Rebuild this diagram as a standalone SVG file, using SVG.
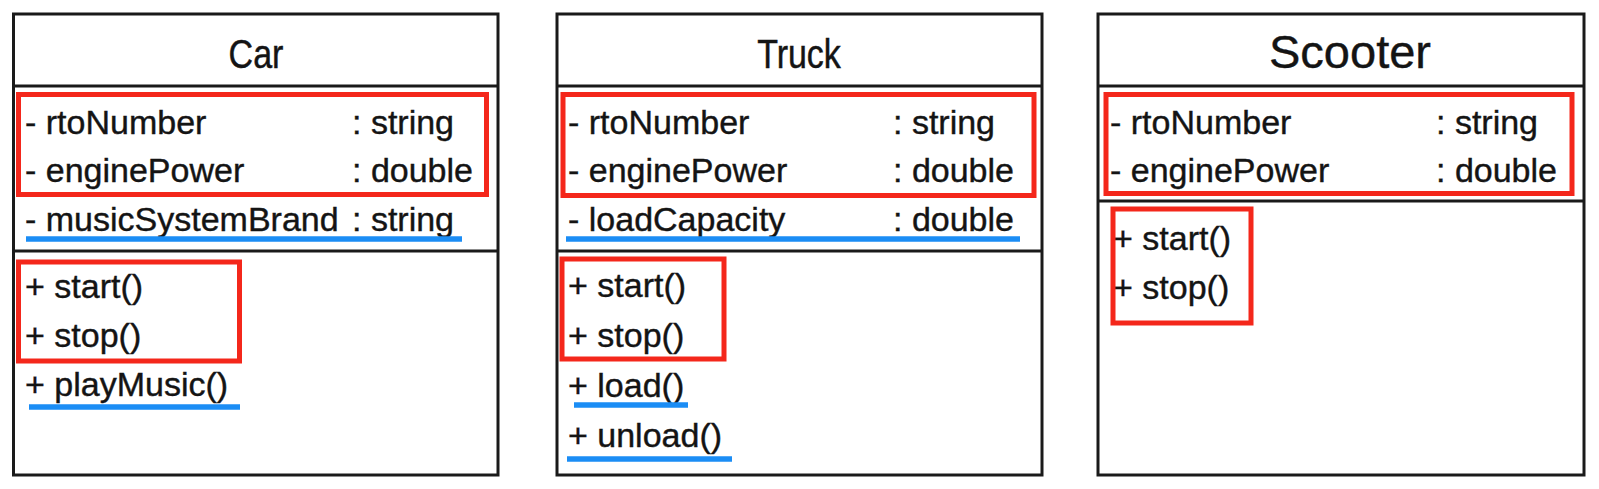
<svg xmlns="http://www.w3.org/2000/svg" width="1599" height="489" viewBox="0 0 1599 489">
<style>
.box{fill:#fff;stroke:#1a1a1a;stroke-width:3}
.div{stroke:#1a1a1a;stroke-width:3}
.hl{fill:none;stroke:#f4271b;stroke-width:5}
.ul{stroke:#1b8df5;stroke-width:5.5;stroke-linecap:butt}
text{font-family:"Liberation Sans",Arial,sans-serif;fill:#141414;stroke:#141414;stroke-width:0.4}
.t{font-size:34px;text-anchor:middle}
.a{font-size:34px}
</style>
<rect width="1599" height="489" fill="#fff"/>
<g id="car">
<rect class="box" x="13.5" y="14" width="484.5" height="461"/>
<line class="div" x1="13.5" y1="86" x2="498" y2="86"/>
<line class="div" x1="13.5" y1="251" x2="498" y2="251"/>
<text class="t" transform="translate(256,68) scale(1,1.17)">Car</text>
<text class="a" x="25" y="134">- rtoNumber</text>
<text class="a" x="352" y="134">: string</text>
<text class="a" x="25" y="182">- enginePower</text>
<text class="a" x="352" y="182">: double</text>
<text class="a" x="25" y="231">- musicSystemBrand</text>
<text class="a" x="352" y="231">: string</text>
<text class="a" x="25" y="298">+ start()</text>
<text class="a" x="25" y="347">+ stop()</text>
<text class="a" x="25" y="396">+ playMusic()</text>
<rect class="hl" x="18.5" y="94.5" width="468" height="100"/>
<rect class="hl" x="18.5" y="262" width="221" height="99"/>
<line class="ul" x1="26" y1="239" x2="462" y2="239"/>
<line class="ul" x1="29" y1="407" x2="240" y2="407"/>
</g>
<g id="truck">
<rect class="box" x="557" y="14" width="485" height="461"/>
<line class="div" x1="557" y1="86" x2="1042" y2="86"/>
<line class="div" x1="557" y1="251" x2="1042" y2="251"/>
<text class="t" transform="translate(799,68) scale(1,1.17)">Truck</text>
<text class="a" x="568" y="134">- rtoNumber</text>
<text class="a" x="893" y="134">: string</text>
<text class="a" x="568" y="182">- enginePower</text>
<text class="a" x="893" y="182">: double</text>
<text class="a" x="568" y="231">- loadCapacity</text>
<text class="a" x="893" y="231">: double</text>
<text class="a" x="568" y="297">+ start()</text>
<text class="a" x="568" y="347">+ stop()</text>
<text class="a" x="568" y="397">+ load()</text>
<text class="a" x="568" y="447">+ unload()</text>
<rect class="hl" x="563" y="94.5" width="471" height="101"/>
<rect class="hl" x="562" y="259" width="162" height="100"/>
<line class="ul" x1="566" y1="239" x2="1020" y2="239"/>
<line class="ul" x1="574" y1="405" x2="688" y2="405"/>
<line class="ul" x1="567" y1="459" x2="732" y2="459"/>
</g>
<g id="scooter">
<rect class="box" x="1098" y="14" width="486" height="461"/>
<line class="div" x1="1098" y1="86" x2="1584" y2="86"/>
<line class="div" x1="1098" y1="201" x2="1584" y2="201"/>
<text x="1350" y="68" style="font-size:47px;text-anchor:middle">Scooter</text>
<text class="a" x="1110" y="134">- rtoNumber</text>
<text class="a" x="1436" y="134">: string</text>
<text class="a" x="1110" y="182">- enginePower</text>
<text class="a" x="1436" y="182">: double</text>
<text class="a" x="1113" y="250">+ start()</text>
<text class="a" x="1113" y="299">+ stop()</text>
<rect class="hl" x="1106" y="94.5" width="466" height="99"/>
<rect class="hl" x="1113" y="209" width="138" height="114"/>
</g>
<g id="connectors"/>
</svg>
